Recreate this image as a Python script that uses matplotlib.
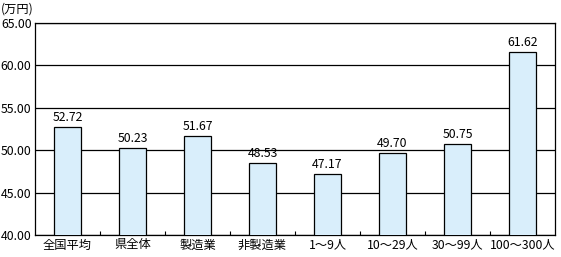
import matplotlib
matplotlib.use('Agg')
from matplotlib import pyplot as plt
import numpy as np

categories = ['全国平均', '県全体', '製造業', '非製造業', '1～9人', '10～29人', '30～99人', '100～300人']
values = [52.72, 50.23, 51.67, 48.53, 47.17, 49.70, 50.75, 61.62]
yticks = [40, 45, 50, 55, 60, 65]

plt.rcParams['font.family'] = ['Noto Sans CJK JP', 'DejaVu Sans']
fs = 8.8

fig = plt.figure(figsize=(5.61, 2.57), dpi=100)
ax = fig.add_axes([35/561, 22/257, 520/561, 212/257])

x = np.arange(len(categories))
ax.bar(x, values, width=0.42, color='#d9eefb', edgecolor='black', linewidth=0.9, zorder=3)
for xi, v in zip(x, values):
    ax.text(xi, v + 0.35, f'{v:.2f}', ha='center', va='bottom', fontsize=fs, zorder=4)

ax.set_ylim(40, 65)
ax.set_xlim(-0.5, len(categories) - 0.5)
ax.set_yticks(yticks)
ax.set_yticklabels([f'{t:.2f}' for t in yticks], fontsize=fs)
ax.set_xticks(x)
ax.set_xticklabels(categories, fontsize=fs)
ax.tick_params(axis='both', length=0, pad=2.5)
ax.set_xticks(x[:-1] + 0.5, minor=True)
ax.tick_params(axis='x', which='minor', direction='in', length=3, width=0.8)
ax.yaxis.grid(True, color='black', linewidth=0.9, zorder=0)
for s in ax.spines.values():
    s.set_linewidth(0.9)

fig.text(1/561, 1 - 9/257, '(万円)', fontsize=fs, va='center', ha='left')

plt.savefig('out.png', dpi=100)
